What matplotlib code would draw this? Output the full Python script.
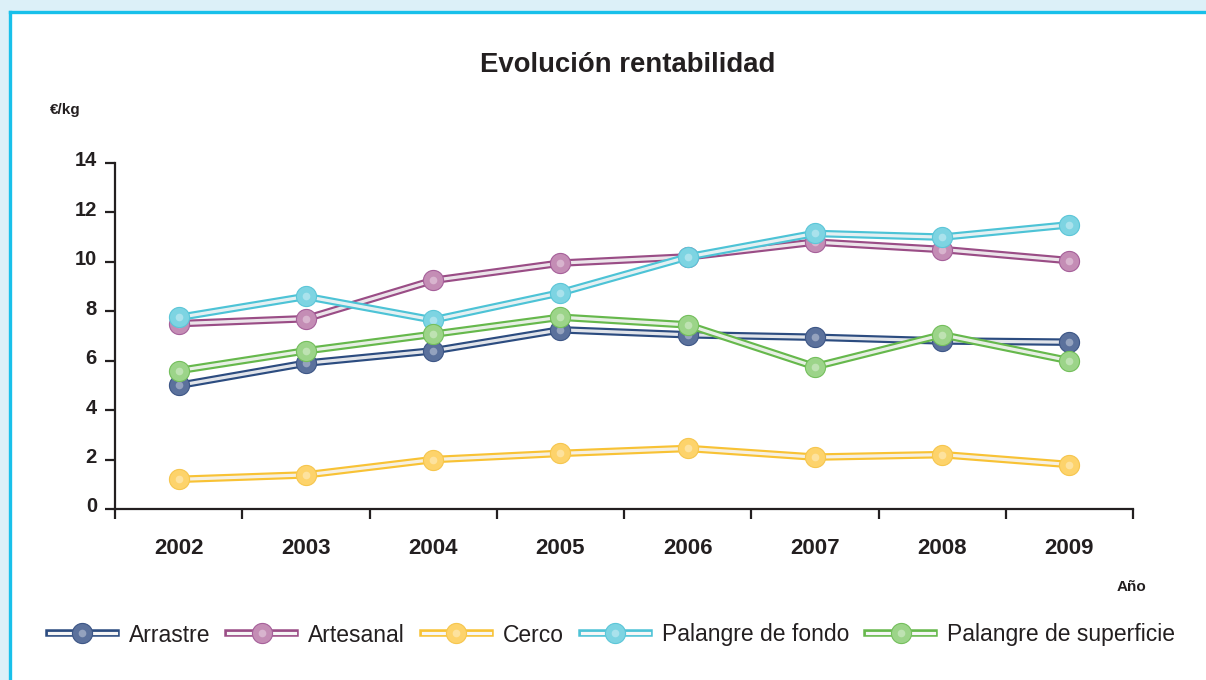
import matplotlib
matplotlib.use('Agg')
import matplotlib.pyplot as plt
from matplotlib.lines import Line2D
from matplotlib.patches import Rectangle
from matplotlib.legend_handler import HandlerTuple
import matplotlib.transforms as mtransforms

plt.rcParams['font.family'] = ['Liberation Sans', 'DejaVu Sans']

# ---- data ----
years = ['2002', '2003', '2004', '2005', '2006', '2007', '2008', '2009']
series_names = ['Arrastre', 'Artesanal', 'Cerco', 'Palangre de fondo', 'Palangre de superficie']
arrastre = [5.0, 5.9, 6.4, 7.25, 7.05, 6.95, 6.8, 6.75]
artesanal = [7.5, 7.7, 9.25, 9.95, 10.2, 10.8, 10.5, 10.05]
cerco = [1.2, 1.38, 2.0, 2.25, 2.45, 2.1, 2.2, 1.8]
palangre_fondo = [7.75, 8.6, 7.65, 8.75, 10.2, 11.15, 11.0, 11.5]
palangre_superficie = [5.6, 6.4, 7.07, 7.76, 7.45, 5.76, 7.05, 6.0]
yticks = [0, 2, 4, 6, 8, 10, 12, 14]

values = [arrastre, artesanal, cerco, palangre_fondo, palangre_superficie]
# (edge/dark, marker face, marker edge)
styles = [
    ('#2c4c80', '#5b719c', '#3d5686'),
    ('#9a4d86', '#c48db5', '#a6609a'),
    ('#f8c235', '#fdd36b', '#f6c64e'),
    ('#4dc3d6', '#7dd4e2', '#5cc6d8'),
    ('#66b84c', '#9cd489', '#74bf5c'),
]
LW_DARK, LW_LIGHT, MS = 5.4, 2.3, 14.5

W, H = 1206, 680
fig = plt.figure(figsize=(W / 100, H / 100), dpi=100)
fig.patch.set_facecolor('#dcf0f8')

# white panel with cyan border (top and left)
fig.add_artist(Rectangle((9.5 / W, 0), 1, 1 - 11.5 / H, transform=fig.transFigure,
                         facecolor='white', edgecolor='none', zorder=-10))
fig.add_artist(Line2D([9.5 / W, 1.0], [1 - 11.5 / H, 1 - 11.5 / H], transform=fig.transFigure,
                      color='#18c0ea', lw=2.4, zorder=-9))
fig.add_artist(Line2D([9.5 / W, 9.5 / W], [0, 1 - 11.5 / H], transform=fig.transFigure,
                      color='#18c0ea', lw=2.4, zorder=-9))

ax = fig.add_axes([115 / W, 1 - 509 / H, (1133 - 115) / W, (509 - 163) / H])
ax.set_facecolor('none')

x = list(range(len(years)))
for i, (vals, (dark, face, medge)) in enumerate(zip(values, styles)):
    z = 3 + i
    ax.plot(x, vals, color=dark, lw=LW_DARK, solid_capstyle='butt', zorder=z, clip_on=False)
    ax.plot(x, vals, color='#f6f6f6', lw=LW_LIGHT, alpha=0.9, zorder=z + 0.1, clip_on=False)
    ax.plot(x, vals, 'o', ms=MS, mfc=face, mec=medge, mew=0.8, zorder=z + 0.2, clip_on=False)
    ax.plot(x, vals, 'o', ms=5.5, mfc='white', mec='none', alpha=0.35, zorder=z + 0.3, clip_on=False)

ax.set_xlim(-0.5, len(years) - 0.5)
ax.set_ylim(0, 14)
ax.set_yticks(yticks)
ax.set_yticklabels([str(t) for t in yticks])

ax.set_xticks([k - 0.5 for k in range(len(years) + 1)])
ax.set_xticklabels([])
ax.set_xticks(x, minor=True)
ax.set_xticklabels(years, minor=True)

for s in ['top', 'right']:
    ax.spines[s].set_visible(False)
for s in ['left', 'bottom']:
    ax.spines[s].set_color('#231f20')
    ax.spines[s].set_linewidth(1.6)

ax.tick_params(axis='y', direction='out', length=7, width=1.6, color='#231f20',
               labelsize=14.5, pad=6, labelcolor='#231f20')
ax.tick_params(axis='x', which='major', direction='out', length=7, width=1.6, color='#231f20')
ax.tick_params(axis='x', which='minor', length=0, labelsize=16, pad=21, labelcolor='#231f20')
for lab in ax.get_yticklabels():
    lab.set_fontweight('bold')
    lab.set_transform(lab.get_transform() + mtransforms.ScaledTranslation(0, 4 / 100, fig.dpi_scale_trans))
for lab in ax.get_xticklabels(minor=True):
    lab.set_fontweight('bold')

fig.text(628 / W, 1 - 65 / H, 'Evolución rentabilidad', ha='center', va='center',
         fontsize=19.8, fontweight='bold', color='#231f20')
fig.text(50 / W, 1 - 110 / H, '€/kg', ha='left', va='center', fontsize=11,
         fontweight='bold', color='#231f20')
fig.text(1146 / W, 1 - 587 / H, 'Año', ha='right', va='center', fontsize=11,
         fontweight='bold', color='#231f20')

handles = []
for dark, face, medge in styles:
    handles.append((Line2D([], [], color=dark, lw=LW_DARK),
                    Line2D([], [], color='#f6f6f6', lw=LW_LIGHT),
                    Line2D([], [], ls='none', marker='o', ms=MS, mfc=face, mec=medge, mew=0.8),
                    Line2D([], [], ls='none', marker='o', ms=5.5, mfc='white', mec='none', alpha=0.35)))
fig.legend(handles, series_names, handler_map={tuple: HandlerTuple(ndivide=1, pad=0)},
           loc='center left', bbox_to_anchor=(49 / W, 1 - 635 / H), ncol=5, frameon=False,
           fontsize=16.5, handlelength=2.92, handletextpad=0.57, columnspacing=0.78,
           borderpad=0, borderaxespad=0, labelcolor='#231f20')

fig.savefig('out.png', dpi=100, facecolor=fig.get_facecolor())
